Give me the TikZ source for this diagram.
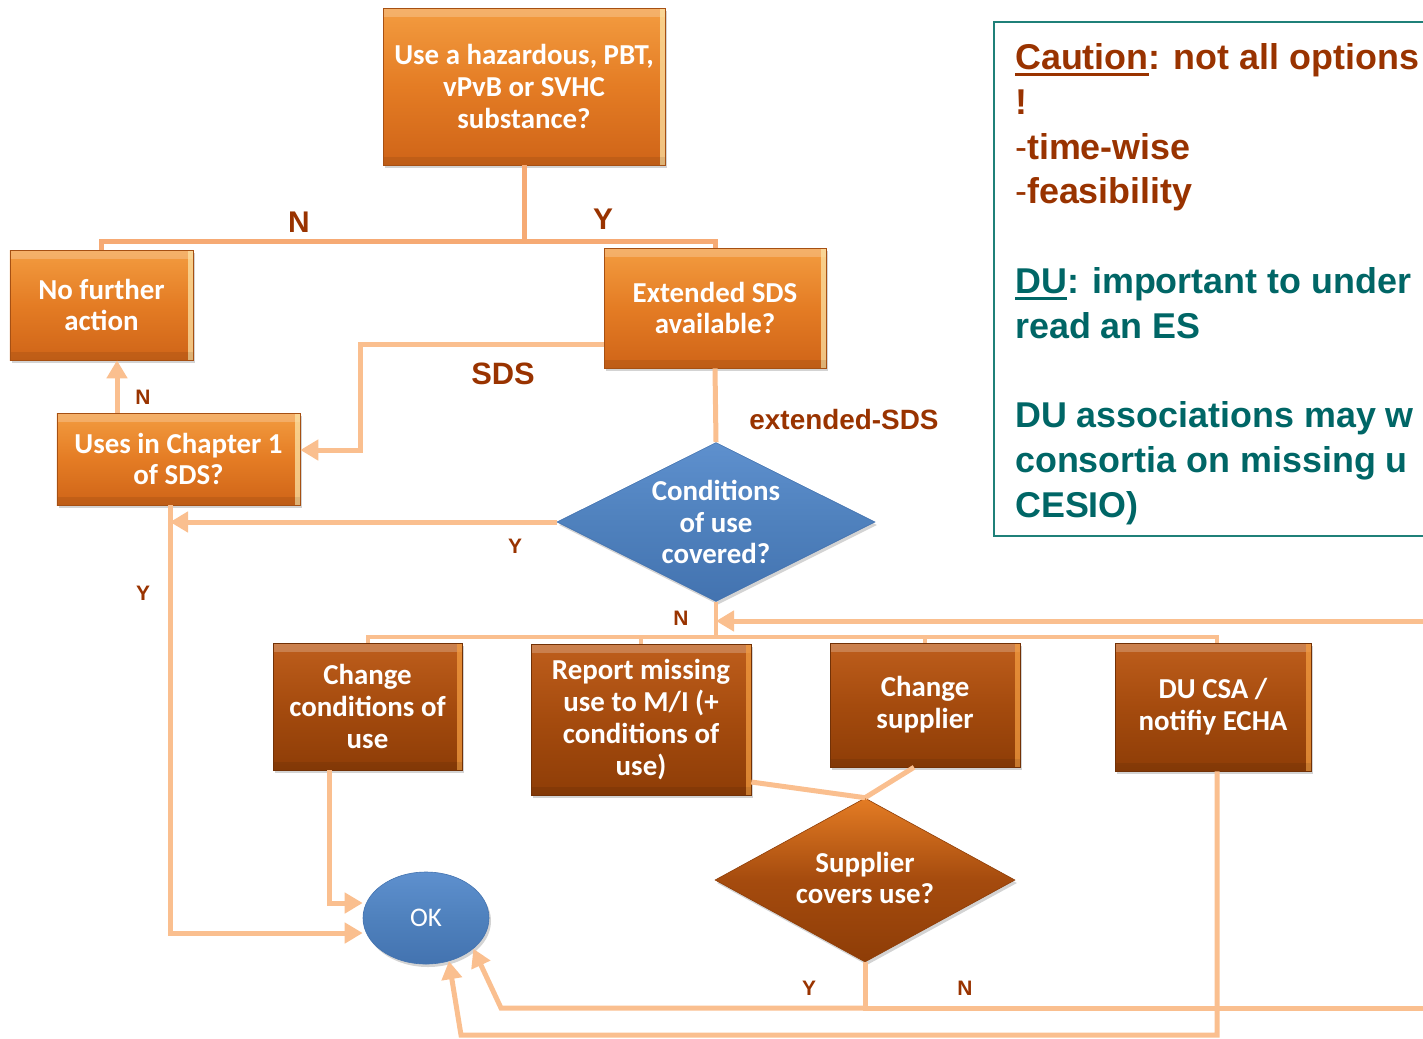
\documentclass[tikz,border=0pt]{standalone}
\usepackage{fontspec}
\setmainfont{Liberation Sans}
\newfontfamily\calib{Carlito}
\usetikzlibrary{arrows.meta,shapes.geometric,shadows}
\definecolor{lineC}{HTML}{FABF8F}
\definecolor{splitC}{HTML}{F6AA74}
\definecolor{labC}{HTML}{993300}
\definecolor{duC}{HTML}{006666}
\definecolor{frameC}{HTML}{1F8079}
\definecolor{orTop}{HTML}{F39C40}
\definecolor{orMid}{HTML}{E47C24}
\definecolor{orBot}{HTML}{CF6418}
\definecolor{brTop}{HTML}{BE5E1C}
\definecolor{brMid}{HTML}{A54B0E}
\definecolor{brBot}{HTML}{8E3D07}
\definecolor{blueTop}{HTML}{5E90CE}
\definecolor{blueMid}{HTML}{4F81BD}
\definecolor{blueBot}{HTML}{4373B0}
\definecolor{hiC}{HTML}{FCE2A4}
\newcommand\myul[1]{\leavevmode\setbox0\hbox{#1}\rlap{\rule[-6bp]{\wd0}{3bp}}\box0}
\begin{document}
\begin{tikzpicture}[x=1bp,y=-1bp,
  btext/.style={text=white, font=\calib\bfseries\fontsize{29}{32}\selectfont, align=center, inner sep=0pt},
  bevel/.style={path picture={
     \fill[white,opacity=.22] (path picture bounding box.north west) rectangle ([yshift=-9bp]path picture bounding box.north east);
     \fill[#1,opacity=.75] ([xshift=-5bp]path picture bounding box.north east) rectangle (path picture bounding box.south east);
     \fill[black,opacity=.08] (path picture bounding box.south west) rectangle ([yshift=8bp]path picture bounding box.south east);}},
  obox/.style={rectangle, btext, top color=orTop, bottom color=orBot, middle color=orMid, draw=orBot!80!black, line width=.6bp,
     drop shadow={shadow xshift=2bp, shadow yshift=-3bp, opacity=.35}, bevel=hiC},
  bbox/.style={rectangle, btext, top color=brTop, bottom color=brBot, middle color=brMid, draw=brBot!80!black, line width=.6bp,
     drop shadow={shadow xshift=2bp, shadow yshift=-3bp, opacity=.35}, bevel=orTop},
  conn/.style={draw=lineC, line width=5bp},
  arr/.style={-{Triangle[length=18bp,width=20bp]}},
  lab/.style={text=labC, font=\bfseries\fontsize{30}{30}\selectfont, inner sep=0pt},
  slab/.style={text=labC, font=\bfseries\fontsize{21}{21}\selectfont, inner sep=0pt},
  note/.style={anchor=base west, inner sep=0pt, font=\bfseries\fontsize{36}{44}\selectfont}
]
\useasboundingbox (0,0) rectangle (1423,1038);

% ---------- nodes ----------
\node[obox, minimum width=282bp, minimum height=157bp] (q1) at (524,86.5) {Use a hazardous, PBT,\\vPvB or SVHC\\substance?};
\node[obox, minimum width=183bp, minimum height=110bp] (nofurther) at (101.5,305) {No further\\action};
\node[obox, minimum width=222bp, minimum height=120bp] (extsds) at (715,308) {Extended SDS\\available?};
\node[obox, minimum width=243bp, minimum height=92bp] (uses) at (178.5,459) {Uses in Chapter 1\\of SDS?};

\node[diamond, minimum width=318bp, minimum height=159bp, inner sep=0pt, top color=blueTop, bottom color=blueBot, middle color=blueMid,
      draw=blueBot, line width=.6bp, drop shadow={shadow xshift=2bp, shadow yshift=-3bp, opacity=.35}] (cond) at (716,522) {};
\node[btext] (condT) at (716,522) {Conditions\\of use\\covered?};

\node[bbox, minimum width=189bp, minimum height=127bp] (chcond) at (367.5,706.5) {Change\\conditions of\\use};
\node[bbox, minimum width=220bp, minimum height=151bp] (report) at (641,719.5) {Report missing\\use to M/I (+\\conditions of\\use)};
\node[bbox, minimum width=190bp, minimum height=124bp] (chsupp) at (925,705) {Change\\supplier};
\node[bbox, minimum width=196bp, minimum height=128bp] (ducsa) at (1213,707) {DU CSA /\\notifiy ECHA};

\node[diamond, minimum width=300bp, minimum height=164bp, inner sep=0pt, top color=orMid, bottom color=brBot, middle color=brMid,
      draw=brBot, line width=.6bp, drop shadow={shadow xshift=2bp, shadow yshift=-3bp, opacity=.35}] (suppd) at (865,880) {};
\node[btext] (suppT) at (865,878) {Supplier\\covers use?};

\node[ellipse, minimum width=126bp, minimum height=92bp, inner sep=0pt, top color=blueTop, bottom color=blueBot, middle color=blueMid,
      draw=blueBot, line width=.6bp, drop shadow={shadow xshift=2bp, shadow yshift=-3bp, opacity=.35},
      text=white, font=\calib\fontsize{27}{30}\selectfont] (ok) at (426,918) {OK};

% ---------- connectors ----------
\coordinate (s1) at (524,241);
\draw[conn, draw=splitC] (q1.south) -- (s1);
\draw[conn, draw=splitC] (s1) -| (nofurther.north);
\draw[conn, draw=splitC] (s1) -| (extsds.north);

\draw[conn,arr] (extsds.west |- 0,344) -| (360,450) -- (uses.east |- 0,450);
\draw[conn] (extsds.south) -- (cond.north);

\coordinate (ud) at (uses.south -| 170,0);
\draw[conn,arr] (cond.west) -- (ud |- cond.west);
\draw[conn,arr] (ud) |- (ok.west |- 0,933);
\draw[conn,arr] (uses.north -| 117,0) -- (nofurther.south -| 117,0);

\coordinate (s2) at (cond.south |- 0,637);
\coordinate (dtop) at (ducsa.north -| 1217,0);
\draw[conn, line width=4bp] (cond.south) -- (s2);
\draw[conn, line width=4bp] (chcond.north) |- (s2);
\draw[conn, line width=4bp] (dtop) |- (s2);
\draw[conn, line width=4bp] (report.north) -- (report.north |- s2);
\draw[conn, line width=4bp] (chsupp.north) -- (chsupp.north |- s2);

\coordinate (re1) at (1423,621);
\draw[conn,arr] (re1) -- (cond.south |- re1);

\coordinate (sj) at (suppd.south |- 0,1008);
\coordinate (re2) at (1423,1008);
\draw[conn] (suppd.south) -- (sj) -- (re2);
\draw[conn,arr] (sj) -- (501,1008) -- (ok.-33);
\draw[conn,arr] (ducsa.south -| 1217,0) |- (461,1035) -- (ok.-62);
\draw[conn] (report.east |- 0,782) -- (suppd.north);
\draw[conn] (chsupp.south -| 914,0) -- (suppd.north);
\draw[conn,arr] (chcond.south -| 329,0) |- (ok.west |- 0,903);

% ---------- labels ----------
\node[lab] (lN1) at (299,222) {N};
\node[lab] (lY1) at (603,219) {Y};
\node[lab, font=\bfseries\fontsize{31}{31}\selectfont] (lSDS) at (503,374) {SDS};
\node[lab, font=\bfseries\fontsize{28}{28}\selectfont] (lext) at (844,420) {extended-SDS};
\node[slab] (lN2) at (143,397) {N};
\node[slab] (lY2) at (515,546) {Y};
\node[slab] (lY3) at (143,593) {Y};
\node[slab] (lN3) at (681,618) {N};
\node[slab] (lY4) at (809,988) {Y};
\node[slab] (lN4) at (965,988) {N};

% ---------- note box ----------
\begin{scope}
\clip (0,0) rectangle (1423,1038);
\draw[draw=frameC, line width=2bp] (994,22) rectangle (1450,536);
\node[note, text=labC] (n1) at (1015,69.5) {\myul{Caution}: not all options};
\node[note, text=labC] (n2) at (1015,114.3) {!};
\node[note, text=labC] (n3) at (1015,159.1) {{\mdseries -}time-wise};
\node[note, text=labC] (n4) at (1015,203.9) {{\mdseries -}feasibility};
\node[note, text=duC] (n5) at (1015,293.5) {\myul{DU}: important to under};
\node[note, text=duC] (n6) at (1015,338.3) {read an ES};
\node[note, text=duC] (n7) at (1015,427.9) {DU associations may w};
\node[note, text=duC] (n8) at (1015,472.7) {consortia on missing u};
\node[note, text=duC] (n9) at (1015,517.5) {CESIO)};
\end{scope}
\end{tikzpicture}
\end{document}
